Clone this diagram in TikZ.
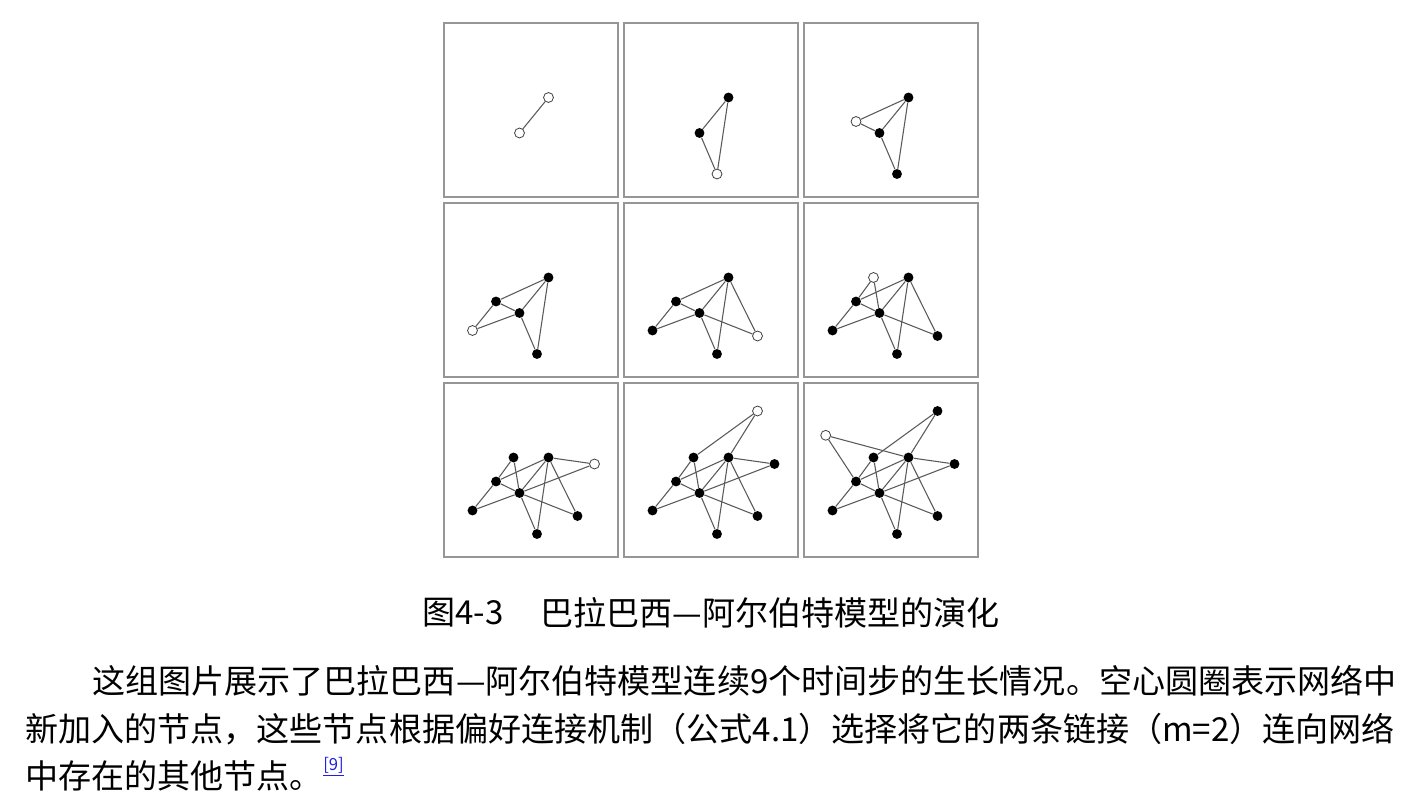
\documentclass[tikz,border=0pt]{standalone}
\usepackage{fontspec}
\setmainfont{Noto Sans CJK SC}
\definecolor{framegray}{RGB}{150,150,150}
\definecolor{edgegray}{RGB}{90,90,90}
\definecolor{refblue}{RGB}{30,30,230}
\tikzset{
  frame/.style={draw=framegray, line width=1.4pt, rectangle, inner sep=0pt,
    minimum width=131pt, minimum height=131pt},
  olddot/.style={circle, fill=black, inner sep=0pt, minimum size=7.4pt},
  newdot/.style={circle, draw=black!75, fill=white, line width=0.6pt,
    inner sep=0pt, minimum size=7.4pt},
  link/.style={draw=edgegray, line width=0.8pt},
  bigtext/.style={anchor=west, inner sep=0pt, font=\fontsize{24.8}{30}\selectfont},
}
\begin{document}
\begin{tikzpicture}[x=0.75pt, y=-0.75pt]
\fill[white] (0,0) rectangle (1424,812);
\useasboundingbox (0,0) rectangle (1424,812);

\foreach \k/\cx/\cy in {1/443/22, 2/623/22, 3/803/22,
                        4/443/202, 5/623/202, 6/803/202,
                        7/443/382, 8/623/382, 9/803/382}{
  \begin{scope}[shift={(\cx,\cy)}]
    \node[frame] (frame\k) at (88,88) {};
    \pgfmathtruncatemacro{\lim}{\k+1}
    \foreach \n/\px/\py [count=\i] in {A/105.5/75.5, B/76.5/111, C/94/152,
        D/53/99.5, E/29.5/128.5, F/134.5/134, G/70.5/75.5, H/151.5/82,
        I/134.5/29, J/22.7/53.3}{
      \ifnum\i>\lim\else
        \ifnum\i=\lim \def\sty{newdot}\else
          \ifnum\k=1 \def\sty{newdot}\else\def\sty{olddot}\fi
        \fi
        \node[\sty] (n\k\n) at (\px,\py) {};
      \fi
    }
    \foreach \a/\b/\p in {A/B/1, A/C/2, B/C/2, D/A/3, D/B/3, E/D/4, E/B/4,
        F/A/5, F/B/5, G/D/6, G/B/6, H/A/7, H/B/7, I/G/8, I/A/8, J/D/9, J/A/9}{
      \ifnum\p>\k\else \draw[link] (n\k\a) -- (n\k\b);\fi
    }
  \end{scope}
}

\node[bigtext] (capnum) at (422,613) {图4-3};
\node[bigtext] (captitle) at (540,613) {巴拉巴西—阿尔伯特模型的演化};

\node[bigtext] (body1) at (92,681) {这组图片展示了巴拉巴西—阿尔伯特模型连续9个时间步的生长情况。空心圆圈表示网络中};
\node[bigtext] (body2) at (25,729) {新加入的节点，这些节点根据偏好连接机制（公式4.1）选择将它的两条链接（m=2）连向网络};
\node[bigtext] (body3) at (25,776) {中存在的其他节点。};
\node[anchor=west, inner sep=0pt, text=refblue, font=\fontsize{12.5}{14}\selectfont]
  (ref) at (323,767) {\underline{[9]}};
\end{tikzpicture}
\end{document}
